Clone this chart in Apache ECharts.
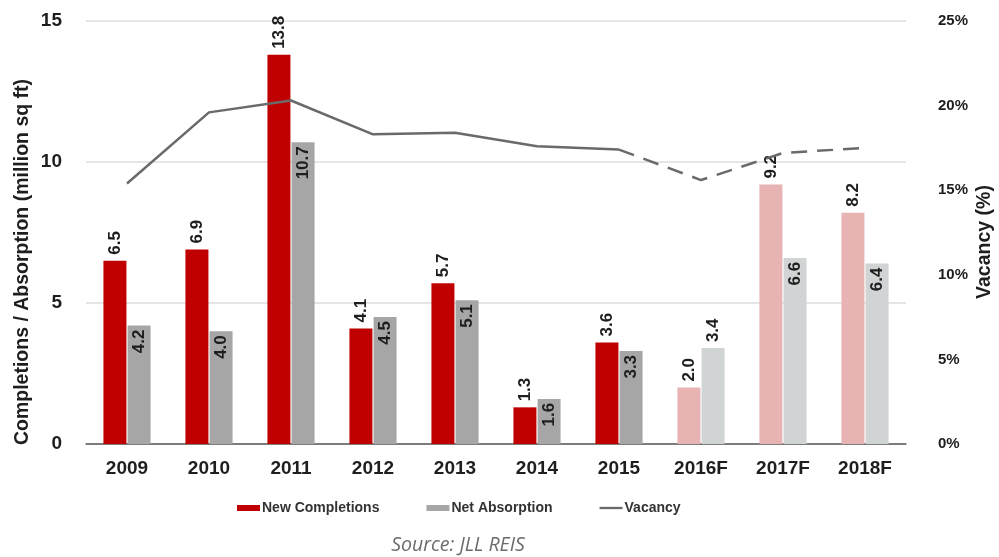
<!DOCTYPE html>
<html>
<head>
<meta charset="utf-8">
<script src="https://cdn.jsdelivr.net/npm/echarts@6/dist/echarts.min.js"></script>
<style>
  html, body { margin: 0; padding: 0; background: #ffffff; }
  #chart { width: 999px; height: 557px; }
</style>
</head>
<body>
<div id="chart"></div>
<script>
// Office market: completions, absorption (million sq ft) and vacancy rate
const years = ['2009', '2010', '2011', '2012', '2013', '2014', '2015', '2016F', '2017F', '2018F'];
const completions = [6.5, 6.9, 13.8, 4.1, 5.7, 1.3, 3.6, 2.0, 9.2, 8.2];
const absorption = [4.2, 4.0, 10.7, 4.5, 5.1, 1.6, 3.3, 3.4, 6.6, 6.4];
const vacancy = [15.4, 19.6, 20.3, 18.3, 18.4, 17.6, 17.4, 15.6, 17.2, 17.5];
const forecastFrom = 7;          // index of the first forecast year
const lastActual = 6;            // vacancy line turns dashed after this year
const leftTicks = { min: 0, max: 15, interval: 5 };
const rightTicks = { min: 0, max: 25, interval: 5 };

const RED = '#c00000', RED_F = '#e8b3b3';
const GREY = '#a6a6a6', GREY_F = '#d0d4d4';
const LINE = '#6a6a6a';
const narrow = "'Liberation Sans Narrow', 'Arial Narrow', 'Liberation Sans', Arial, sans-serif";
const sans = "'Liberation Sans', Arial, sans-serif";

const topLabel = {
  show: true, position: 'top', rotate: 90, align: 'left', verticalAlign: 'middle',
  distance: 6, color: '#1e1e1e', fontFamily: narrow, fontWeight: 'bold', fontSize: 17,
  formatter: p => p.value.toFixed(1)
};
const insideLabel = Object.assign({}, topLabel, { position: 'insideTop', align: 'right', distance: 4 });

const compData = completions.map((v, i) => ({
  value: v,
  itemStyle: { color: i >= forecastFrom ? RED_F : RED }
}));
const absData = absorption.map((v, i) => {
  const item = { value: v, itemStyle: { color: i >= forecastFrom ? GREY_F : GREY } };
  // the short forecast bar carries its value above it
  if (i === forecastFrom) item.label = topLabel;
  return item;
});
const vacSolid = vacancy.map((v, i) => (i <= lastActual ? v : null));
const vacDashed = vacancy.map((v, i) => (i >= lastActual ? v : null));

const chart = echarts.init(document.getElementById('chart'), null, { renderer: 'canvas' });
chart.setOption({
  animation: false,
  backgroundColor: '#ffffff',
  grid: { left: 86, right: 93, top: 21, bottom: 113, containLabel: false },
  legend: {
    left: 232, top: 496,
    itemWidth: 23, itemHeight: 6, itemGap: 47,
    textStyle: { fontFamily: sans, fontWeight: 'bold', fontSize: 14, color: '#333333', padding: [0, 0, 0, -3] },
    data: [
      { name: 'New Completions', icon: 'rect' },
      { name: 'Net Absorption', icon: 'rect' },
      { name: 'Vacancy', icon: 'path://M0,0H30V3H0Z' }
    ]
  },
  xAxis: {
    type: 'category',
    data: years,
    axisLine: { lineStyle: { color: '#595959', width: 1.5 } },
    axisTick: { show: false },
    axisLabel: { margin: 15, color: '#1e1e1e', fontFamily: narrow, fontWeight: 'bold', fontSize: 19 }
  },
  yAxis: [
    {
      type: 'value', min: leftTicks.min, max: leftTicks.max, interval: leftTicks.interval,
      axisLine: { show: false }, axisTick: { show: false },
      splitLine: { lineStyle: { color: '#dcdcdc', width: 1.5 } },
      axisLabel: { margin: 24, color: '#1e1e1e', fontFamily: narrow, fontWeight: 'bold', fontSize: 19 }
    },
    {
      type: 'value', min: rightTicks.min, max: rightTicks.max, interval: rightTicks.interval,
      axisLine: { show: false }, axisTick: { show: false }, splitLine: { show: false },
      axisLabel: { margin: 32, color: '#1e1e1e', fontFamily: sans, fontWeight: 'bold', fontSize: 15,
        formatter: '{value}%' }
    }
  ],
  series: [
    {
      name: 'New Completions', type: 'bar', yAxisIndex: 0,
      barWidth: 23, barGap: '5%',
      itemStyle: { color: RED },
      label: topLabel,
      data: compData
    },
    {
      name: 'Net Absorption', type: 'bar', yAxisIndex: 0,
      barWidth: 23, barGap: '5%',
      itemStyle: { color: GREY },
      label: insideLabel,
      data: absData
    },
    {
      name: 'Vacancy', type: 'line', yAxisIndex: 1, z: 5,
      symbol: 'none', showSymbol: false,
      itemStyle: { color: LINE },
      lineStyle: { color: LINE, width: 2.5 },
      data: vacSolid
    },
    {
      name: 'Vacancy', type: 'line', yAxisIndex: 1, z: 5,
      symbol: 'none', showSymbol: false,
      itemStyle: { color: LINE },
      lineStyle: { color: LINE, width: 2.5, type: [16, 10] },
      data: vacDashed
    }
  ],
  graphic: [
    {
      type: 'text', x: 23, y: 262, rotation: Math.PI / 2,
      style: {
        text: 'Completions / Absorption (million sq ft)',
        font: "bold 19.5px 'Liberation Sans Narrow', 'Arial Narrow', 'Liberation Sans', Arial, sans-serif",
        fill: '#1e1e1e', align: 'center', verticalAlign: 'middle'
      }
    },
    {
      type: 'text', x: 985, y: 242, rotation: Math.PI / 2,
      style: {
        text: 'Vacancy (%)',
        font: "bold 19.5px 'Liberation Sans Narrow', 'Arial Narrow', 'Liberation Sans', Arial, sans-serif",
        fill: '#1e1e1e', align: 'center', verticalAlign: 'middle'
      }
    },
    {
      type: 'text', x: 458, y: 545,
      style: {
        text: 'Source: JLL REIS',
        font: "italic 19.5px 'Open Sans', 'Noto Sans', sans-serif",
        fill: '#6b6b6b', align: 'center', verticalAlign: 'middle'
      }
    }
  ]
});
</script>
</body>
</html>
